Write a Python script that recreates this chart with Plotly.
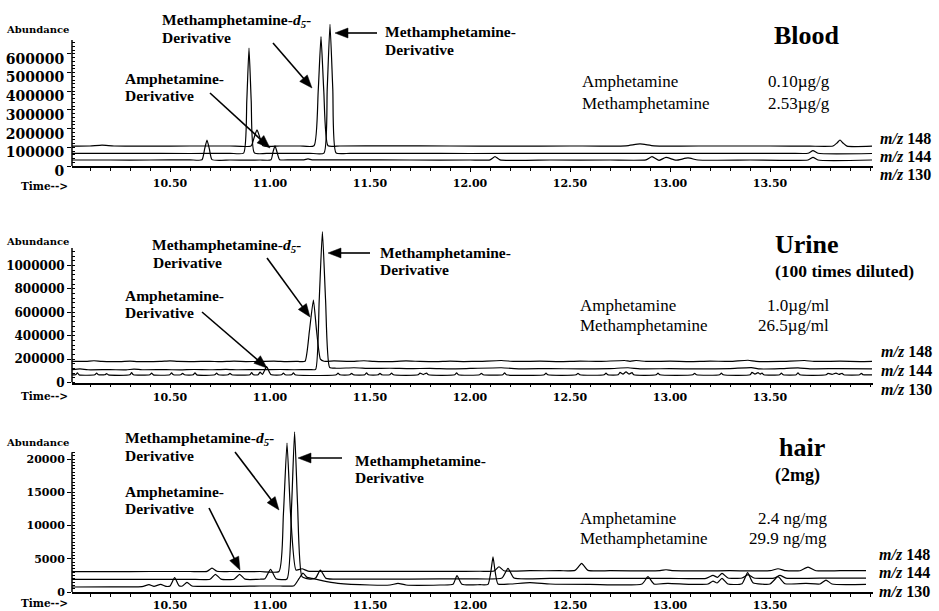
import math
import plotly.graph_objects as go

# ---------------- data ----------------
time_tick_vals = [10.5, 11.0, 11.5, 12.0, 12.5, 13.0, 13.5]
time_tick_text = ["10.50", "11.00", "11.50", "12.00", "12.50", "13.00", "13.50"]

blood_tick_vals = [0, 100000, 200000, 300000, 400000, 500000, 600000]
urine_tick_vals = [0, 200000, 400000, 600000, 800000, 1000000]
hair_tick_vals = [0, 5000, 10000, 15000, 20000]

# Blood
blood_t_148 = [10.01, 10.10, 10.16, 10.22, 10.40, 10.60, 10.80, 10.905, 10.92, 10.935, 10.95, 10.965,
               11.05, 11.15, 11.22, 11.241, 11.255, 11.269, 11.29, 11.35, 11.60, 11.90, 12.20, 12.50,
               12.78, 12.85, 12.92, 13.20, 13.50, 13.70, 13.815, 13.835, 13.85, 13.865, 13.885, 14.01]
blood_y_148 = [106000, 107000, 112000, 107000, 106000, 107000, 107000, 107000, 150000, 193000, 150000, 108000,
               107000, 107000, 108000, 400000, 692000, 400000, 108000, 107000, 108000, 107000, 106000, 107000,
               108000, 118000, 108000, 107000, 107000, 106000, 107000, 123000, 139000, 123000, 106000, 106000]

blood_t_144 = [10.01, 10.30, 10.60, 10.80, 10.868, 10.884, 10.895, 10.906, 10.922, 11.00, 11.10, 11.20,
               11.27, 11.286, 11.30, 11.314, 11.33, 11.40, 11.70, 12.00, 12.40, 12.80, 13.20, 13.60,
               13.69, 13.715, 13.74, 14.01]
blood_y_144 = [68000, 68000, 67000, 68000, 69000, 350000, 631000, 350000, 70000, 68000, 68000, 68000,
               69000, 410000, 758000, 410000, 70000, 68000, 68000, 67000, 68000, 68000, 68000, 68000,
               68000, 82000, 68000, 67000]

blood_t_130 = [10.01, 10.20, 10.40, 10.60, 10.66, 10.673, 10.685, 10.697, 10.71, 10.80, 10.90, 10.95,
               11.005, 11.015, 11.025, 11.035, 11.048, 11.10, 11.17, 11.19, 11.21, 11.40, 11.70, 12.00,
               12.10, 12.125, 12.15, 12.40, 12.70, 12.88, 12.91, 12.945, 12.98, 13.03, 13.09, 13.14,
               13.40, 13.69, 13.715, 13.74, 14.01]
blood_y_130 = [32000, 32000, 32000, 33000, 33000, 90000, 139000, 90000, 34000, 32000, 31000, 32000,
               33000, 75000, 108000, 75000, 34000, 33000, 33000, 38000, 33000, 33000, 32000, 32000,
               33000, 50000, 33000, 32000, 32000, 33000, 50000, 30000, 46000, 31000, 43000, 32000,
               32000, 32000, 46000, 32000, 32000]

# Urine
urine_t_148 = [10.01, 10.08, 10.12, 10.16, 10.25, 10.30, 10.34, 10.45, 10.50, 10.54, 10.62, 10.70,
               10.75, 10.82, 10.88, 10.95, 11.02, 11.08, 11.14, 11.175, 11.197, 11.217, 11.233, 11.252,
               11.27, 11.32, 11.40, 11.47, 11.52, 11.60, 11.68, 11.75, 11.83, 11.90, 11.97, 12.05,
               12.157, 12.22, 12.35, 12.45, 12.55, 12.65, 12.773, 12.80, 12.83, 12.88, 13.00, 13.10,
               13.20, 13.30, 13.39, 13.43, 13.55, 13.673, 13.72, 13.85, 13.95, 14.01]
urine_y_148 = [180000, 181000, 186000, 180000, 179000, 183000, 179000, 180000, 185000, 180000, 179000, 181000,
               178000, 182000, 179000, 180000, 183000, 179000, 180000, 181000, 440000, 705000, 440000, 200000,
               182000, 184000, 180000, 186000, 180000, 179000, 184000, 180000, 178000, 182000, 179000, 181000,
               188000, 180000, 182000, 179000, 183000, 180000, 188000, 181000, 188000, 180000, 182000, 179000,
               183000, 180000, 190000, 181000, 180000, 188000, 180000, 182000, 179000, 181000]

urine_t_144 = [10.01, 10.05, 10.09, 10.20, 10.28, 10.32, 10.36, 10.48, 10.55, 10.62, 10.70, 10.78,
               10.84, 10.95, 11.05, 11.12, 11.20, 11.228, 11.246, 11.262, 11.278, 11.298, 11.33, 11.42,
               11.50, 11.60, 11.70, 11.80, 11.90, 12.00, 12.157, 12.25, 12.40, 12.55, 12.70, 12.79,
               12.85, 13.00, 13.15, 13.30, 13.407, 13.45, 13.55, 13.64, 13.70, 13.85, 14.01]
urine_y_144 = [110000, 116000, 109000, 110000, 108000, 114000, 109000, 110000, 108000, 111000, 109000, 113000,
               109000, 110000, 111000, 109000, 110000, 112000, 700000, 1289000, 700000, 130000, 122000, 126000,
               120000, 122000, 118000, 121000, 117000, 120000, 126000, 117000, 119000, 116000, 119000, 126000,
               117000, 118000, 116000, 119000, 127000, 116000, 118000, 125000, 117000, 119000, 116000]

urine_t_130 = [10.01,
               10.028, 10.037, 10.046, 10.124, 10.133, 10.142, 10.174, 10.183, 10.192,
               10.299, 10.308, 10.317, 10.399, 10.408, 10.417, 10.499, 10.508, 10.517,
               10.554, 10.563, 10.572, 10.616, 10.625, 10.634, 10.724, 10.733, 10.742,
               10.791, 10.80, 10.809, 10.899, 10.908, 10.917, 10.941, 10.95, 10.962,
               10.983, 11.004,
               11.058, 11.067, 11.076, 11.108, 11.117, 11.126, 11.331, 11.34, 11.349,
               11.399, 11.408, 11.417, 11.474, 11.483, 11.492, 11.541, 11.55, 11.559,
               11.599, 11.608, 11.617,
               11.741, 11.75, 11.766, 11.783, 11.792,
               11.924, 11.933, 11.942, 12.048, 12.057, 12.066, 12.164, 12.173, 12.182,
               12.371, 12.38, 12.389, 12.531, 12.54, 12.549, 12.671, 12.68, 12.689,
               12.741, 12.75, 12.765, 12.78, 12.795, 12.81, 12.819,
               12.931, 12.94, 12.949, 13.114, 13.123, 13.132, 13.248, 13.257, 13.266,
               13.401, 13.41, 13.425, 13.44, 13.45, 13.46, 13.469,
               13.548, 13.557, 13.566, 13.631, 13.64, 13.649,
               13.781, 13.79, 13.81, 13.83, 13.845, 13.86, 13.869,
               13.948, 13.957, 13.966,
               14.01]
urine_y_130 = [66000,
               66000, 82000, 65000, 66000, 80000, 66000, 66000, 76000, 65000,
               66000, 84000, 66000, 66000, 80000, 65000, 66000, 82000, 66000,
               66000, 78000, 66000, 66000, 83000, 65000, 66000, 80000, 66000,
               66000, 78000, 66000, 66000, 84000, 66000, 66000, 88000, 70000,
               135000, 68000,
               66000, 80000, 66000, 66000, 82000, 66000, 66000, 80000, 66000,
               66000, 78000, 66000, 66000, 82000, 66000, 66000, 79000, 66000,
               66000, 80000, 66000,
               66000, 80000, 68000, 80000, 66000,
               66000, 82000, 66000, 66000, 79000, 66000, 66000, 82000, 66000,
               66000, 80000, 66000, 66000, 79000, 66000, 66000, 81000, 66000,
               66000, 86000, 72000, 90000, 72000, 84000, 66000,
               66000, 80000, 66000, 66000, 79000, 66000, 66000, 80000, 66000,
               66000, 86000, 72000, 84000, 72000, 80000, 66000,
               66000, 80000, 66000, 66000, 82000, 66000,
               66000, 78000, 70000, 80000, 70000, 78000, 66000,
               66000, 79000, 66000,
               66000]

# Hair
hair_t_148 = [10.01, 10.20, 10.40, 10.60, 10.685, 10.71, 10.735, 10.80, 10.95, 11.045, 11.067, 11.085,
              11.103, 11.13, 11.16, 11.19, 11.30, 11.50, 11.70, 11.90, 12.05, 12.12, 12.145, 12.17,
              12.30, 12.45, 12.525, 12.545, 12.558, 12.571, 12.59, 12.70, 12.95, 12.98, 13.01, 13.30,
              13.50, 13.54, 13.58, 13.65, 13.69, 13.73, 13.85, 13.98]
hair_y_148 = [3050, 3060, 3080, 3080, 3100, 3590, 3120, 3080, 3080, 3090, 11700, 22400,
              11700, 3300, 3500, 3150, 3100, 3100, 3100, 3100, 3120, 3150, 3800, 3200,
              3200, 3200, 3250, 3900, 4320, 3900, 3250, 3200, 3200, 3350, 3200, 3200,
              3200, 3500, 3200, 3200, 3730, 3200, 3200, 3200]

hair_t_144 = [10.01, 10.30, 10.60, 10.70, 10.727, 10.755, 10.82, 10.848, 10.875, 10.95, 10.975, 11.003,
              11.03, 11.085, 11.108, 11.123, 11.138, 11.16, 11.20, 11.228, 11.252, 11.28, 11.40, 11.70,
              12.00, 12.16, 12.19, 12.22, 12.40, 12.70, 13.00, 13.18, 13.215, 13.238, 13.26, 13.29,
              13.36, 13.39, 13.42, 13.52, 13.55, 13.58, 13.80, 13.98]
hair_y_144 = [1900, 1910, 1910, 1920, 2660, 1930, 1920, 2660, 1930, 1920, 2000, 3410,
              2000, 1950, 13000, 24100, 13000, 2300, 1950, 2100, 3300, 2050, 1950, 1950,
              1980, 2100, 3560, 2100, 2050, 2050, 2050, 2050, 2500, 2200, 2800, 2100,
              2100, 2600, 2100, 2100, 2500, 2100, 2100, 2100]

hair_t_130 = [10.01, 10.20, 10.36, 10.395, 10.42, 10.453, 10.48, 10.50, 10.523, 10.545, 10.562, 10.585,
              10.61, 10.70, 10.85, 10.95, 11.05, 11.12, 11.145, 11.165, 11.185, 11.21, 11.26, 11.34,
              11.50, 11.60, 11.64, 11.68, 11.85, 11.915, 11.935, 11.96, 12.05, 12.09, 12.105, 12.115,
              12.125, 12.14, 12.20, 12.30, 12.40, 12.60, 12.86, 12.89, 12.92, 12.99, 13.10, 13.19,
              13.215, 13.235, 13.26, 13.29, 13.36, 13.388, 13.415, 13.50, 13.54, 13.575, 13.68, 13.75,
              13.78, 13.81, 13.98]
hair_y_130 = [750, 780, 800, 1100, 850, 1150, 850, 900, 2150, 950, 900, 1450,
              900, 850, 850, 900, 900, 950, 2000, 2850, 2200, 2050, 1700, 1300,
              1050, 1050, 1300, 1050, 1050, 1150, 2450, 1150, 1100, 1150, 3200, 5300,
              3200, 1200, 1200, 1400, 1200, 1150, 1200, 2300, 1200, 1300, 1150, 1200,
              1650, 1350, 2060, 1200, 1250, 2900, 1400, 1200, 2300, 1250, 1300, 1200,
              1800, 1200, 1150]

# ---------------- layout helpers ----------------
W, H = 939, 611
ML, MR = 72, 66
PW = W - ML - MR
SERIF = "Liberation Serif"
TICKF = "DejaVu Serif"


def px(x):
    return (x - ML) / PW


def py(y):
    return (H - y) / H


panels = [
    dict(ax="", axis_py=166, top_py=18, upp=5350, axis_top=674000, ticks=blood_tick_vals, tsize=14, shift=5,
         minor=20000, standoff=2),
    dict(ax="2", axis_py=382.5, top_py=226, upp=8547, axis_top=1149000, ticks=urine_tick_vals, tsize=12, shift=0,
         minor=40000, standoff=0),
    dict(ax="3", axis_py=592, top_py=428, upp=150.4, axis_top=21000, ticks=hair_tick_vals, tsize=11, shift=0,
         minor=500, standoff=-2),
]

series = [
    [(blood_t_148, blood_y_148), (blood_t_144, blood_y_144), (blood_t_130, blood_y_130)],
    [(urine_t_148, urine_y_148), (urine_t_144, urine_y_144), (urine_t_130, urine_y_130)],
    [(hair_t_148, hair_y_148), (hair_t_144, hair_y_144), (hair_t_130, hair_y_130)],
]

fig = go.Figure()
layout = dict(width=W, height=H, margin=dict(l=ML, r=MR, t=0, b=0),
              paper_bgcolor="white", plot_bgcolor="white", showlegend=False, template="none")
shapes = []

for p, ser in zip(panels, series):
    xa = "x" + p["ax"]
    ya = "y" + p["ax"]
    for t, v in ser:
        fig.add_trace(go.Scatter(x=t, y=v, mode="lines", xaxis=xa, yaxis=ya, hoverinfo="skip",
                                 line=dict(color="black", width=1.2, shape="spline", smoothing=0.5)))
    dom = [py(p["axis_py"]), py(p["top_py"])]
    ytop = (p["axis_py"] - p["top_py"]) * p["upp"]
    nminor = int(p["axis_top"] // p["minor"])
    layout["xaxis" + p["ax"]] = dict(
        domain=[0, 1], anchor=ya, range=[10.01, 14.015], tickmode="array",
        tickvals=time_tick_vals, ticktext=time_tick_text, ticks="outside", ticklen=4, tickwidth=1,
        tickcolor="black", showline=True, linewidth=1.5, linecolor="black", showgrid=False,
        zeroline=False, automargin=False, ticklabelstandoff=p["standoff"],
        tickfont=dict(family=TICKF, size=11, color="black", weight="bold"),
        minor=dict(tickmode="linear", tick0=10.0, dtick=0.1, ticks="outside", ticklen=3,
                   tickwidth=1, tickcolor="black", showgrid=False))
    layout["yaxis" + p["ax"]] = dict(
        domain=dom, anchor=xa, range=[0, ytop], tickmode="array", tickvals=p["ticks"],
        ticktext=[str(v) for v in p["ticks"]], ticks="outside", ticklen=4, tickwidth=1,
        tickcolor="black", showline=False, showgrid=False, zeroline=False, automargin=False,
        ticklabelshift=p["shift"],
        tickfont=dict(family=TICKF, size=p["tsize"], color="black", weight="bold"),
        minor=dict(tickmode="array", tickvals=[i * p["minor"] for i in range(nminor + 1)],
                   ticks="inside", ticklen=3, tickwidth=1, tickcolor="black", showgrid=False))
    shapes.append(dict(type="line", xref="paper", yref=ya, x0=0, x1=0, y0=0, y1=p["axis_top"],
                       line=dict(color="black", width=1.5)))

ann = []


def text(x, y, s, size, anchor="left", family=SERIF):
    ann.append(dict(x=px(x), y=py(y), xref="paper", yref="paper", text=s, showarrow=False,
                    xanchor=anchor, yanchor="middle", font=dict(family=family, size=size, color="black")))


def arrow(x0, y0, x1, y1, head=13, half=5):
    dx, dy = x1 - x0, y1 - y0
    d = math.hypot(dx, dy)
    ux, uy = dx / d, dy / d
    bx, by = x1 - ux * head, y1 - uy * head
    lx, ly = bx - uy * half, by + ux * half
    rx, ry = bx + uy * half, by - ux * half
    shapes.append(dict(type="line", xref="paper", yref="paper", x0=px(x0), y0=py(y0),
                       x1=px(bx + ux * 2), y1=py(by + uy * 2), line=dict(color="black", width=1.6)))
    shapes.append(dict(type="path", xref="paper", yref="paper",
                       path=f"M {px(x1)},{py(y1)} L {px(lx)},{py(ly)} L {px(rx)},{py(ry)} Z",
                       fillcolor="black", line=dict(color="black", width=0.5)))


D5 = "<b>Methamphetamine-<i>d<sub>5</sub></i>-</b>"
MA = "<b>Methamphetamine-</b>"
AM = "<b>Amphetamine-</b>"
DV = "<b>Derivative</b>"
BIG = 15.5
MZ = 16

# axis captions
for yab, ytime in [(29.5, 186), (241.7, 396), (442.7, 603)]:
    text(72, yab, "<b>Abundance</b>", 10, "right", TICKF)
    text(70, ytime, "<b>Time--&gt;</b>", 10.5, "right", TICKF)

# Blood panel
text(160, 20.5, D5, BIG); text(160, 37.5, DV, BIG)
arrow(273, 43, 312, 88)
text(383, 32, MA, BIG); text(383, 50, DV, BIG)
arrow(377, 33, 335, 33)
text(123, 78.5, AM, BIG); text(123, 95.5, DV, BIG)
arrow(210, 93, 270, 148)
text(807, 35, "<b>Blood</b>", 26, "center")
text(580, 82, "Amphetamine", 17); text(832, 82, "0.10µg/g", 17, "right")
text(580, 103, "Methamphetamine", 17); text(832, 103, "2.53µg/g", 17, "right")
for yy, lab in [(138.3, "148"), (156.7, "144"), (174, "130")]:
    text(878, yy, "<b><i>m/z</i> " + lab + "</b>", MZ)

# Urine panel
text(150, 245, D5, BIG); text(151, 262, DV, BIG)
arrow(267, 258, 310, 317)
text(378, 252, MA, BIG); text(378, 269, DV, BIG)
arrow(370, 253, 328, 253)
text(123, 295.5, AM, BIG); text(123, 312, DV, BIG)
arrow(202, 312, 267, 368)
text(807, 244, "<b>Urine</b>", 26, "center")
text(844, 271, "<b>(100 times diluted)</b>", 17.5, "center")
text(578, 305, "Amphetamine", 17); text(831, 305, "1.0µg/ml", 17, "right")
text(578, 325, "Methamphetamine", 17); text(831, 325, "26.5µg/ml", 17, "right")
for yy, lab in [(351.7, "148"), (370.3, "144"), (389, "130")]:
    text(879, yy, "<b><i>m/z</i> " + lab + "</b>", MZ)

# Hair panel
text(123, 438, D5, BIG); text(123, 455, DV, BIG)
arrow(235, 452, 279, 510)
text(353, 460, MA, BIG); text(353, 477, DV, BIG)
arrow(342, 458, 298, 458)
text(123, 491, AM, BIG); text(123, 508, DV, BIG)
arrow(209, 508, 240, 570)
text(802, 447, "<b>hair</b>", 26, "center")
text(797, 475, "<b>(2mg)</b>", 18, "center")
text(578, 518, "Amphetamine", 17); text(829, 518, "2.4 ng/mg", 17, "right")
text(578, 538, "Methamphetamine", 17); text(829, 538, "29.9 ng/mg", 17, "right")
for yy, lab in [(554.3, "148"), (572.7, "144"), (591.3, "130")]:
    text(877, yy, "<b><i>m/z</i> " + lab + "</b>", MZ)

layout["annotations"] = ann
layout["shapes"] = shapes
fig.update_layout(**layout)
fig.write_html("out.html", config={"displayModeBar": False},
               post_script="document.body.style.margin='0';document.body.style.overflow='hidden';")
